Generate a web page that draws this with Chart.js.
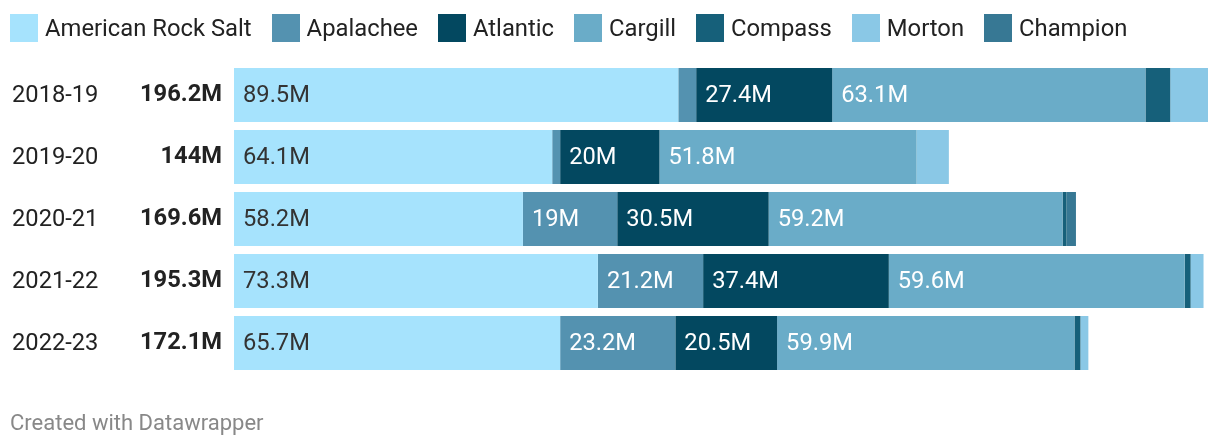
<!DOCTYPE html>
<html>
<head>
<meta charset="utf-8">
<script src="https://cdn.jsdelivr.net/npm/chart.js@4"></script>
<style>
  html, body { margin: 0; padding: 0; background: #fff; }
  body { width: 1220px; height: 448px; position: relative; overflow: hidden; font-family: Roboto, "Noto Sans", sans-serif; }
  #wrap { position: absolute; left: 0; top: 0; width: 1220px; height: 448px; }
  #legend { position: absolute; left: 10px; top: 14px; height: 28px; display: flex; align-items: center; font-size: 23.8px; line-height: 28px; color: #222; white-space: nowrap; }
  .item { display: flex; align-items: center; margin-right: 20px; }
  .sw { width: 28px; height: 28px; margin-right: 7px; }
  #foot { position: absolute; left: 10px; top: 412px; font-size: 22px; line-height: 22px; color: #888; }
</style>
</head>
<body>
<div id="wrap"><canvas id="c" width="1220" height="448"></canvas></div>
<div id="legend"></div>
<div id="foot">Created with Datawrapper</div>
<script>
const categories = ["2018-19", "2019-20", "2020-21", "2021-22", "2022-23"];
const totals = ["196.2M", "144M", "169.6M", "195.3M", "172.1M"];
const seriesNames = ["American Rock Salt", "Apalachee", "Atlantic", "Cargill", "Compass", "Morton", "Champion"];
const americanRockSalt = [89.5, 64.1, 58.2, 73.3, 65.7];
const apalachee = [3.6, 1.6, 19, 21.2, 23.2];
const atlantic = [27.4, 20, 30.5, 37.4, 20.5];
const cargill = [63.1, 51.8, 59.2, 59.6, 59.9];
const compass = [5.0, 0, 0.8, 1.2, 1.2];
const morton = [7.6, 6.5, 0, 2.6, 1.6];
const champion = [0, 0, 1.9, 0, 0];
const colors = ["#a6e3fd", "#5492b0", "#034860", "#6aacc8", "#16607a", "#8ac8e6", "#377894"];
const labelColors = ["#333333", "#ffffff", "#ffffff", "#ffffff", "#ffffff", "#ffffff", "#ffffff"];
const seriesData = [americanRockSalt, apalachee, atlantic, cargill, compass, morton, champion];

// legend
const lg = document.getElementById('legend');
seriesNames.forEach((n, i) => {
  const it = document.createElement('div'); it.className = 'item';
  const sw = document.createElement('div'); sw.className = 'sw'; sw.style.background = colors[i];
  const t = document.createElement('span'); t.textContent = n;
  it.appendChild(sw); it.appendChild(t); lg.appendChild(it);
});

const FONT = 'Roboto, "Noto Sans", sans-serif';
const FS = 23.7;

const labelsPlugin = {
  id: 'labelsPlugin',
  afterDatasetsDraw(chart) {
    const ctx = chart.ctx;
    const ys = chart.scales.y;
    ctx.save();
    ctx.textBaseline = 'middle';
    categories.forEach((c, i) => {
      const y = ys.getPixelForValue(i);
      ctx.font = FS + 'px ' + FONT;
      ctx.fillStyle = '#222';
      ctx.textAlign = 'left';
      ctx.fillText(c, 12, y + 1);
      ctx.font = 'bold ' + FS + 'px ' + FONT;
      ctx.textAlign = 'right';
      ctx.fillText(totals[i], 222, y);
    });
    ctx.font = FS + 'px ' + FONT;
    ctx.textAlign = 'left';
    chart.data.datasets.forEach((ds, di) => {
      const meta = chart.getDatasetMeta(di);
      meta.data.forEach((el, i) => {
        const v = ds.data[i];
        if (!v) return;
        const txt = v + 'M';
        const w = Math.abs(el.x - el.base);
        const tw = ctx.measureText(txt).width;
        if (tw + 14 > w) return;
        ctx.fillStyle = labelColors[di];
        ctx.fillText(txt, Math.min(el.x, el.base) + 9, el.y + 1);
      });
    });
    ctx.restore();
  }
};

new Chart(document.getElementById('c'), {
  type: 'bar',
  data: {
    labels: categories,
    datasets: seriesNames.map((n, i) => ({
      label: n,
      data: seriesData[i],
      backgroundColor: colors[i],
      borderWidth: 0,
      categoryPercentage: 1,
      barPercentage: 54 / 62
    }))
  },
  options: {
    indexAxis: 'y',
    responsive: false,
    animation: false,
    devicePixelRatio: 1,
    layout: { padding: { left: 234, right: 12, top: 64, bottom: 74 } },
    scales: {
      x: { stacked: true, display: false, min: 0, max: 196.2 },
      y: { stacked: true, display: false }
    },
    plugins: { legend: { display: false }, tooltip: { enabled: false } }
  },
  plugins: [labelsPlugin]
});
</script>
</body>
</html>
